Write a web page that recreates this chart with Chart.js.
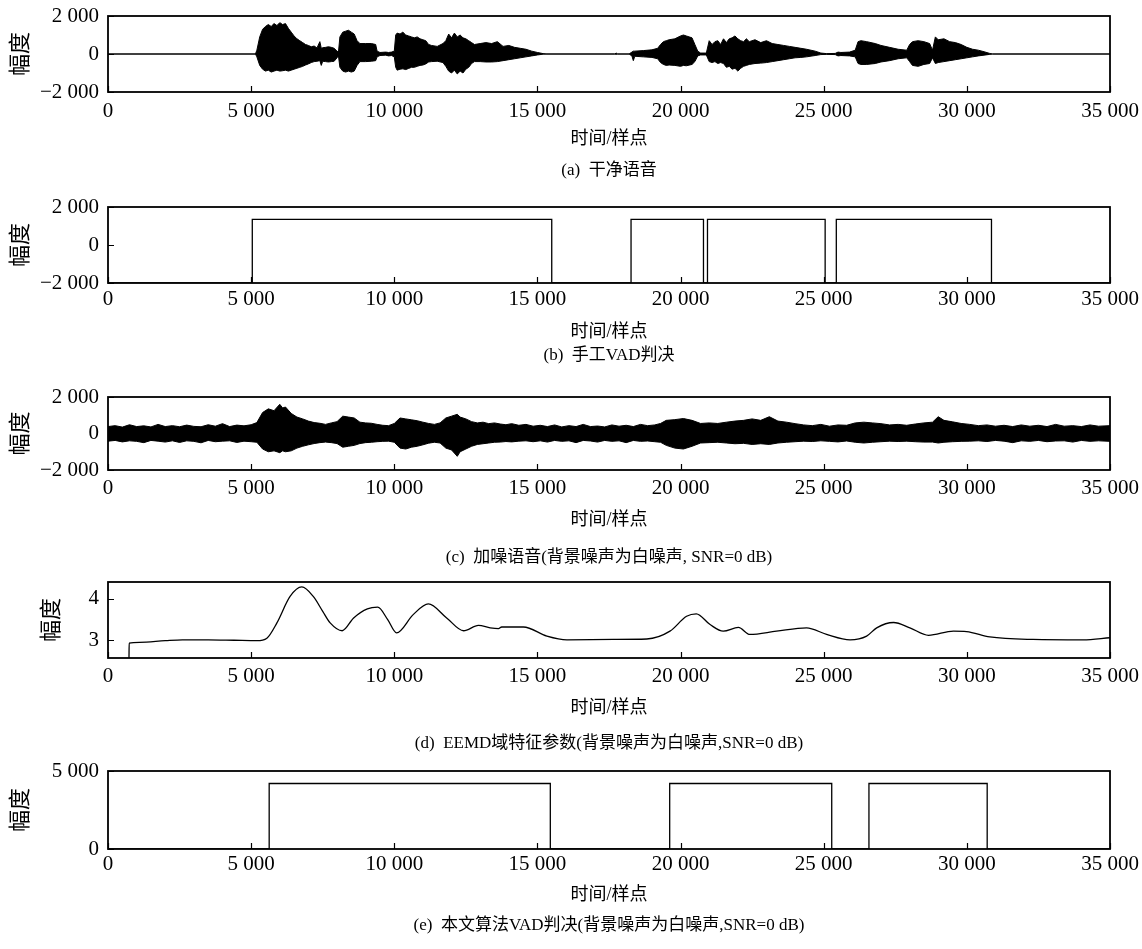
<!DOCTYPE html>
<html>
<head>
<meta charset="utf-8">
<script src="https://cdn.jsdelivr.net/npm/chart.js@4/dist/chart.umd.min.js"></script>
<style>
  body { margin: 0; background: #fff; }
  #page { position: relative; width: 1142px; height: 949px; }
  .panel { position: absolute; left: 0; width: 1142px; }
</style>
</head>
<body>
<div id="page"></div>
<script>
// Data

const xTicks = [0, 5000, 10000, 15000, 20000, 25000, 30000, 35000];

// (a) clean speech envelope: [sample, upper, lower]
const cleanSpeech = [
  [0, 0, 0], [5150, 0, 0], [5200, 200, -150], [5300, 900, -600], [5400, 1300, -800], [5500, 1450, -900],
  [5600, 1550, -850], [5700, 1450, -950], [5800, 1600, -900], [5900, 1500, -850], [6000, 1650, -900],
  [6100, 1550, -880], [6200, 1600, -850], [6300, 1350, -900], [6400, 1150, -850], [6500, 950, -800],
  [6600, 800, -750], [6700, 700, -700], [6800, 600, -650], [6900, 500, -580], [7000, 450, -520],
  [7100, 380, -450], [7200, 420, -400], [7300, 320, -380], [7400, 650, -350], [7450, 300, -600],
  [7500, 330, -380], [7600, 350, -400], [7700, 380, -420], [7800, 350, -400], [7900, 300, -380],
  [8000, 150, -200], [8050, 100, -100], [8100, 900, -700], [8200, 1150, -900], [8300, 1200, -950],
  [8400, 1250, -900], [8500, 1150, -950], [8600, 1050, -900], [8700, 700, -600], [8800, 550, -400],
  [9000, 550, -400], [9200, 550, -380], [9350, 500, -350], [9400, 150, -150], [9500, 80, -80],
  [9700, 100, -60], [9800, 80, -100], [9900, 100, -80], [10000, 150, -150], [10050, 1000, -700],
  [10100, 1100, -850], [10200, 1050, -800], [10300, 1150, -780], [10400, 1000, -820], [10500, 950, -760],
  [10600, 900, -700], [10700, 850, -700], [10800, 900, -650], [10900, 800, -600], [11000, 750, -580],
  [11100, 700, -520], [11200, 500, -420], [11300, 450, -400], [11500, 400, -380], [11700, 550, -450],
  [11800, 700, -650], [11900, 1050, -900], [12000, 850, -1000], [12100, 1100, -850], [12200, 900, -1050],
  [12300, 1000, -900], [12400, 850, -1000], [12500, 800, -800], [12600, 700, -700], [12700, 600, -500],
  [12800, 500, -400], [13000, 550, -400], [13200, 600, -420], [13400, 550, -420], [13600, 650, -400],
  [13800, 400, -350], [14000, 450, -300], [14200, 350, -250], [14400, 300, -200], [14600, 250, -150],
  [14800, 150, -100], [15000, 80, -50], [15200, 20, -10], [15300, 0, 0], [17700, 0, 0], [17750, 50, -20],
  [17800, 0, 0], [18200, 0, 0], [18300, 100, -100], [18350, 150, -350], [18400, 150, -120],
  [18700, 180, -150], [19000, 220, -180], [19200, 300, -250], [19300, 500, -450], [19400, 650, -550],
  [19500, 700, -600], [19600, 750, -580], [19800, 800, -600], [20000, 950, -650], [20100, 1000, -600],
  [20200, 950, -620], [20400, 850, -550], [20500, 500, -400], [20600, 150, -100], [20700, 50, -50],
  [20900, 50, -50], [21000, 700, -400], [21100, 500, -450], [21200, 650, -400], [21300, 700, -500],
  [21400, 500, -450], [21500, 800, -500], [21600, 600, -700], [21700, 800, -650], [21800, 850, -800],
  [21900, 950, -750], [22000, 800, -900], [22100, 700, -750], [22200, 650, -650], [22300, 800, -600],
  [22400, 650, -550], [22600, 750, -500], [22800, 600, -480], [23000, 700, -450], [23200, 550, -400],
  [23400, 500, -350], [23600, 450, -300], [23800, 400, -250], [24000, 350, -200], [24200, 300, -180],
  [24400, 250, -150], [24700, 150, -80], [24900, 50, -30], [25100, 20, -20], [25400, 30, -30],
  [25500, 100, -100], [25600, 80, -80], [25900, 100, -100], [26100, 200, -150], [26200, 650, -500],
  [26300, 700, -550], [26500, 650, -550], [26800, 550, -500], [27000, 450, -420], [27300, 350, -350],
  [27600, 250, -250], [27900, 200, -200], [28000, 500, -400], [28100, 650, -600], [28300, 700, -650],
  [28500, 650, -550], [28700, 550, -500], [28800, 200, -200], [28900, 900, -500], [29000, 750, -450],
  [29200, 800, -400], [29400, 650, -350], [29600, 600, -300], [29800, 500, -250], [30000, 350, -200],
  [30200, 250, -150], [30400, 200, -100], [30600, 120, -60], [30800, 30, -20], [30900, 0, 0], [35000, 0, 0]
];

// (b) manual VAD segments
const manualStart = [5040, 18270, 20940, 25440];
const manualEnd = [15500, 20800, 25050, 30860];
const manualHigh = 1350;
const manualLow = -2000;

// (c) noisy speech envelope: [sample, upper, lower]
const noisySpeech = [
  [0, 380, -420], [250, 430, -380], [500, 350, -460], [750, 480, -400], [1000, 380, -430], [1250, 420, -500],
  [1500, 360, -380], [1750, 500, -420], [2000, 380, -470], [2250, 430, -400], [2500, 370, -490],
  [2750, 460, -400], [3000, 390, -430], [3250, 370, -510], [3500, 480, -380], [3750, 400, -450],
  [4000, 540, -420], [4250, 380, -400], [4500, 460, -490], [4750, 420, -420], [5000, 480, -450],
  [5200, 600, -480], [5400, 1150, -850], [5600, 1350, -1000], [5800, 1250, -950], [6000, 1600, -1050],
  [6100, 1400, -950], [6200, 1450, -1000], [6400, 1100, -950], [6600, 900, -800], [6800, 800, -700],
  [7000, 680, -620], [7200, 600, -550], [7400, 560, -500], [7600, 500, -470], [7800, 580, -500],
  [8000, 650, -550], [8200, 950, -750], [8400, 900, -700], [8600, 850, -650], [8800, 620, -550],
  [9000, 580, -500], [9200, 560, -480], [9400, 500, -450], [9600, 450, -430], [9800, 430, -420],
  [10000, 550, -480], [10200, 850, -800], [10400, 800, -850], [10600, 750, -750], [10800, 700, -700],
  [11000, 620, -620], [11200, 550, -530], [11400, 500, -480], [11600, 580, -520], [11800, 850, -800],
  [12000, 950, -900], [12200, 1050, -1250], [12300, 900, -1000], [12500, 800, -850], [12700, 650, -700],
  [12900, 580, -600], [13100, 620, -560], [13300, 540, -520], [13500, 580, -480], [13700, 520, -470],
  [13900, 480, -440], [14100, 540, -460], [14350, 450, -420], [14600, 500, -400], [14850, 400, -450],
  [15100, 450, -400], [15350, 380, -470], [15600, 470, -380], [15850, 360, -430], [16100, 430, -400],
  [16350, 380, -500], [16600, 500, -380], [16850, 380, -410], [17100, 410, -470], [17350, 360, -380],
  [17600, 470, -430], [17850, 400, -400], [18100, 450, -500], [18350, 380, -380], [18600, 500, -430],
  [18850, 430, -410], [19100, 470, -450], [19300, 550, -480], [19500, 720, -650], [19800, 760, -800],
  [20100, 820, -850], [20400, 720, -700], [20700, 550, -520], [21000, 580, -500], [21300, 550, -480],
  [21600, 620, -520], [21900, 680, -560], [22200, 720, -540], [22500, 800, -600], [22800, 720, -560],
  [23100, 920, -600], [23400, 680, -520], [23700, 620, -480], [24000, 540, -450], [24300, 470, -420],
  [24600, 430, -440], [24900, 500, -400], [25200, 400, -430], [25500, 470, -460], [25800, 450, -410],
  [26100, 580, -480], [26400, 620, -520], [26700, 580, -480], [27000, 540, -450], [27300, 470, -420],
  [27600, 500, -440], [27900, 450, -420], [28200, 520, -450], [28500, 580, -470], [28800, 620, -470],
  [29000, 920, -520], [29200, 720, -480], [29500, 640, -450], [29800, 550, -430], [30100, 500, -420],
  [30400, 430, -400], [30700, 470, -440], [31000, 400, -380], [31300, 450, -420], [31600, 380, -500],
  [31900, 470, -400], [32200, 400, -430], [32500, 450, -380], [32800, 380, -450], [33100, 500, -410],
  [33400, 400, -400], [33700, 430, -470], [34000, 380, -380], [34300, 470, -430], [34600, 400, -400],
  [35000, 430, -430]
];

// (d) EEMD feature parameter
const eemdX = [733, 740, 1100, 2000, 2600, 3500, 4400, 5200, 5550, 5900, 6360, 6770, 7170, 7500, 7760,
  8180, 8580, 9060, 9420, 9770, 10080, 10660, 11190, 11830, 12420, 12940, 13350, 13640, 13750, 14510,
  15330, 16030, 17660, 18820, 19630, 20210, 20550, 21030, 21490, 22020, 22420, 23350, 24400, 25100,
  25920, 26500, 26850, 27440, 28010, 28660, 29530, 29990, 30800, 32310, 34060, 35000];
const eemdY = [2.57, 2.93, 2.95, 2.99, 3.01, 3.01, 3.00, 2.99, 3.05, 3.42, 4.06, 4.29, 4.06, 3.70, 3.42,
  3.23, 3.54, 3.76, 3.80, 3.50, 3.18, 3.62, 3.88, 3.54, 3.23, 3.36, 3.30, 3.28, 3.32, 3.32,
  3.10, 3.01, 3.02, 3.03, 3.22, 3.58, 3.64, 3.38, 3.22, 3.31, 3.14, 3.22, 3.30, 3.14,
  3.01, 3.10, 3.30, 3.43, 3.30, 3.12, 3.22, 3.21, 3.08, 3.02, 3.01, 3.06];

// (e) proposed algorithm VAD segments
const algoStart = [5630, 19620, 26580];
const algoEnd = [15450, 25280, 30710];
const algoHigh = 4200;
const algoLow = 0;

const captions = [
  "(a)  干净语音",
  "(b)  手工VAD判决",
  "(c)  加噪语音(背景噪声为白噪声, SNR=0 dB)",
  "(d)  EEMD域特征参数(背景噪声为白噪声,SNR=0 dB)",
  "(e)  本文算法VAD判决(背景噪声为白噪声,SNR=0 dB)"
];

// Helpers

const FONT = "'Liberation Serif', 'Noto Sans CJK SC', serif";

function fmt(v) {
  const s = Math.abs(v).toString().replace(/\B(?=(\d{3})+(?!\d))/g, " ");
  return (v < 0 ? "\u2212" : "") + s;
}

function envelope(rows) {
  return {
    up: rows.map(r => ({ x: r[0], y: r[1] })),
    lo: rows.map(r => ({ x: r[0], y: r[2] }))
  };
}

function pulses(starts, ends, hi, lo) {
  const pts = [{ x: 0, y: lo }];
  starts.forEach((s, i) => {
    pts.push({ x: s, y: lo }, { x: s, y: hi }, { x: ends[i], y: hi }, { x: ends[i], y: lo });
  });
  pts.push({ x: 35000, y: lo });
  return pts;
}

const lineStyle = { borderColor: "#000", borderWidth: 1.3, pointRadius: 0, tension: 0, fill: false };

function envelopeSets(rows) {
  const e = envelope(rows);
  return [
    { ...lineStyle, borderWidth: 1, data: e.up, fill: "+1", backgroundColor: "#000" },
    { ...lineStyle, borderWidth: 1, data: e.lo }
  ];
}

// frame + inward tick marks
const framePlugin = {
  id: "frame",
  afterDatasetsDraw(chart) {
    const { ctx, chartArea: a, scales: { x, y } } = chart;
    ctx.save();
    ctx.strokeStyle = "#000";
    ctx.lineWidth = 1.2;
    ctx.beginPath();
    x.ticks.forEach(t => {
      const p = Math.round(x.getPixelForValue(t.value)) + 0.5;
      ctx.moveTo(p, a.bottom);
      ctx.lineTo(p, a.bottom - 6);
    });
    y.ticks.forEach(t => {
      const p = Math.round(y.getPixelForValue(t.value)) + 0.5;
      ctx.moveTo(a.left, p);
      ctx.lineTo(a.left + 6, p);
    });
    ctx.stroke();
    ctx.lineWidth = 1.8;
    ctx.strokeRect(a.left, a.top, a.width, a.height);
    ctx.restore();
  }
};

// Panels: plot box position and text rows (absolute page pixels)
const panels = [
  { top: 16, bottom: 92, tickY: 111, titleY: 139, capY: 171, yTitleX: 21, yMin: -2000, yMax: 2000, yTicks: [-2000, 0, 2000],
    datasets: envelopeSets(cleanSpeech) },
  { top: 207, bottom: 283, tickY: 299, titleY: 332, capY: 356, yTitleX: 21, yMin: -2000, yMax: 2000, yTicks: [-2000, 0, 2000],
    datasets: [{ ...lineStyle, data: pulses(manualStart, manualEnd, manualHigh, manualLow) }] },
  { top: 397, bottom: 470, tickY: 488, titleY: 520, capY: 558, yTitleX: 21, yMin: -2000, yMax: 2000, yTicks: [-2000, 0, 2000],
    datasets: envelopeSets(noisySpeech) },
  { top: 582, bottom: 658, tickY: 676, titleY: 708, capY: 744, yTitleX: 52, yMin: 2.57, yMax: 4.41, yTicks: [3, 4],
    datasets: [{ ...lineStyle, data: eemdX.map((v, i) => ({ x: v, y: eemdY[i] })), cubicInterpolationMode: "monotone" }] },
  { top: 771, bottom: 849, tickY: 864, titleY: 895, capY: 926, yTitleX: 21, yMin: 0, yMax: 5000, yTicks: [0, 5000],
    datasets: [{ ...lineStyle, data: pulses(algoStart, algoEnd, algoHigh, algoLow) }] }
];

const PAD_TOP = 16;
const TICK_SIZE = 21, TITLE_SIZE = 18, CAP_SIZE = 17, YTITLE_SIZE = 22;

// Render

const page = document.getElementById("page");

panels.forEach((p, i) => {
  const tickLH = TICK_SIZE * 1.2, titleLH = TITLE_SIZE * 1.2, capLH = CAP_SIZE * 1.2, yLH = YTITLE_SIZE * 1.2;
  const xH = p.titleY - p.bottom + titleLH / 2;
  const capPad = p.capY - (p.bottom + xH) - capLH / 2;
  const capBox = capPad + capLH + 2;
  const h = PAD_TOP + (p.bottom - p.top) + xH + capBox;

  const div = document.createElement("div");
  div.className = "panel";
  div.style.top = (p.top - PAD_TOP) + "px";
  div.style.height = h + "px";
  const canvas = document.createElement("canvas");
  div.appendChild(canvas);
  page.appendChild(div);

  new Chart(canvas, {
    type: "line",
    data: { datasets: p.datasets },
    options: {
      animation: false,
      responsive: true,
      maintainAspectRatio: false,
      layout: { padding: { top: PAD_TOP, right: 32, left: 0, bottom: 0 } },
      plugins: {
        legend: { display: false },
        tooltip: { enabled: false },
        title: {
          display: true,
          position: "bottom",
          fullSize: false,
          text: captions[i],
          color: "#000",
          font: { family: FONT, size: CAP_SIZE, weight: "normal" },
          padding: { top: capPad, bottom: 2 }
        }
      },
      scales: {
        x: {
          type: "linear",
          min: 0,
          max: 35000,
          afterBuildTicks: s => { s.ticks = xTicks.map(v => ({ value: v })); },
          afterFit: s => { s.height = xH; s.paddingLeft = 0; s.paddingRight = 0; },
          grid: { display: false, drawTicks: false },
          border: { display: false },
          ticks: {
            color: "#000",
            maxRotation: 0,
            padding: p.tickY - p.bottom - tickLH / 2,
            font: { family: FONT, size: TICK_SIZE },
            callback: v => fmt(v)
          },
          title: {
            display: true,
            text: "时间/样点",
            color: "#000",
            padding: 0,
            font: { family: FONT, size: TITLE_SIZE }
          }
        },
        y: {
          type: "linear",
          min: p.yMin,
          max: p.yMax,
          afterBuildTicks: s => { s.ticks = p.yTicks.map(v => ({ value: v })); },
          afterFit: s => { s.width = 108; s.paddingTop = 0; s.paddingBottom = 0; },
          grid: { display: false, drawTicks: false },
          border: { display: false },
          ticks: {
            color: "#000",
            padding: 9,
            font: { family: FONT, size: TICK_SIZE },
            callback: v => fmt(v)
          },
          title: {
            display: true,
            text: "幅度",
            color: "#000",
            padding: { top: p.yTitleX - yLH / 2, bottom: 0 },
            font: { family: FONT, size: YTITLE_SIZE }
          }
        }
      }
    },
    plugins: [framePlugin]
  });
});
</script>
</body>
</html>
